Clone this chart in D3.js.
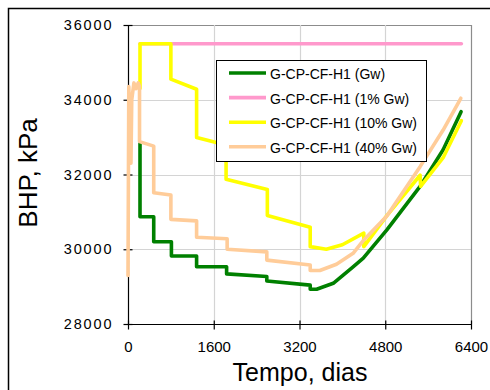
<!DOCTYPE html>
<html>
<head>
<meta charset="utf-8">
<script src="https://cdn.jsdelivr.net/npm/d3@7"></script>
<style>
  body { margin: 0; background: #fff; }
  svg { display: block; font-family: "Liberation Sans", Arial, sans-serif; }
</style>
</head>
<body>
<div id="chart"></div>
<script>
// tick values
let xTicks = [0, 1600, 3200, 4800, 6400];
let yTicks = [28000, 30000, 32000, 34000, 36000];

// series names, in legend order
let seriesNames = ['G-CP-CF-H1 (Gw)', 'G-CP-CF-H1 (1% Gw)', 'G-CP-CF-H1 (10% Gw)', 'G-CP-CF-H1 (40% Gw)'];
let seriesColors = ['#008000', '#ff99cc', '#ffff00', '#ffcc99'];

// [tempo (dias), BHP (kPa)]
let gw = [
    [224, 32830], [224, 30870], [480, 30870], [480, 30200], [810, 30200], [810, 29820],
    [1280, 29820], [1280, 29530], [1840, 29530], [1840, 29340], [2590, 29270], [2590, 29150],
    [3400, 29040], [3400, 28930], [3520, 28930], [3830, 29090], [4200, 29530], [4390, 29760],
    [4830, 30520], [5450, 31680], [5880, 32660], [6215, 33680]
];
let gw1 = [
    [224, 35500], [6220, 35500]
];
let gw10 = [
    [224, 34300], [224, 35500], [800, 35500], [800, 34550], [1280, 34280], [1280, 32990],
    [1830, 32790], [1830, 31870], [2600, 31600], [2600, 30900], [3400, 30590], [3400, 30070],
    [3700, 30000], [4000, 30120], [4400, 30430], [4400, 30070], [4830, 30900], [5450, 31980],
    [5460, 31680], [5880, 32450], [6220, 33440]
];
let gw40 = [
    [0, 29300], [15, 34350], [40, 33200], [55, 32300], [70, 34000], [110, 34450], [150, 34300],
    [190, 34450], [215, 34350], [215, 32880], [480, 32760], [480, 31510], [800, 31450],
    [800, 30800], [1280, 30760], [1280, 30320], [1850, 30280], [1850, 30000], [2590, 29930],
    [2590, 29710], [3400, 29580], [3400, 29430], [3580, 29430], [3890, 29600], [4200, 29890],
    [4400, 30250], [4830, 30890], [5450, 32210], [5880, 33190], [6210, 34040]
];
let allSeries = [gw, gw1, gw10, gw40];

// svg size and plot area
let svgWidth = 490;
let svgHeight = 390;
let margin = { top: 25, right: 19, bottom: 66, left: 128 };
let width = svgWidth - margin.left - margin.right;
let height = svgHeight - margin.top - margin.bottom;

let svg = d3.select('#chart')
    .append('svg')
    .attr('width', svgWidth)
    .attr('height', svgHeight);

// outer chart frame
svg.append('rect')
    .attr('x', 8.5)
    .attr('y', 8.5)
    .attr('width', 520)
    .attr('height', 520)
    .attr('fill', 'none')
    .attr('stroke', '#000')
    .attr('stroke-width', 1.5);

let chartGroup = svg.append('g')
    .attr('transform', `translate(${margin.left}, ${margin.top})`);

// scales
let xScale = d3.scaleLinear().domain([0, 6400]).range([0, width]);
let yScale = d3.scaleLinear().domain([28000, 36000]).range([height, 0]);

// gridlines
chartGroup.append('g')
    .selectAll('line')
    .data(yTicks.slice(1))
    .enter()
    .append('line')
    .attr('x1', 0)
    .attr('x2', width)
    .attr('y1', d => Math.round(yScale(d)) + 0.5)
    .attr('y2', d => Math.round(yScale(d)) + 0.5)
    .attr('stroke', d => d === 36000 ? '#8c8c8c' : '#d4d4d4')
    .attr('stroke-width', 1.2);

chartGroup.append('g')
    .selectAll('line')
    .data(xTicks.slice(1))
    .enter()
    .append('line')
    .attr('y1', 0)
    .attr('y2', height)
    .attr('x1', d => Math.round(xScale(d)) + 0.5)
    .attr('x2', d => Math.round(xScale(d)) + 0.5)
    .attr('stroke', d => d === 6400 ? '#8c8c8c' : '#d4d4d4')
    .attr('stroke-width', 1.2);

// axes
let leftAxis = d3.axisLeft(yScale)
    .tickValues(yTicks)
    .tickFormat(d3.format('d'))
    .tickSizeInner(5)
    .tickSizeOuter(0)
    .tickPadding(10);

let bottomAxis = d3.axisBottom(xScale)
    .tickValues(xTicks)
    .tickFormat(d3.format('d'))
    .tickSizeInner(5)
    .tickSizeOuter(0)
    .tickPadding(12);

let yAxis = chartGroup.append('g')
    .attr('transform', 'translate(0.5, 0)')
    .call(leftAxis);

let xAxis = chartGroup.append('g')
    .attr('transform', `translate(0, ${height + 0.5})`)
    .call(bottomAxis);

// ticks cross the axis lines
yAxis.selectAll('.tick line').attr('x2', -5).attr('x1', 4);
xAxis.selectAll('.tick line').attr('y2', 5).attr('y1', -4);

yAxis.selectAll('path, line').attr('stroke', '#000').attr('stroke-width', 1.2);
xAxis.selectAll('path, line').attr('stroke', '#000').attr('stroke-width', 1.2);

yAxis.selectAll('text')
    .attr('font-size', '14.5px')
    .attr('letter-spacing', '1.9px')
    .attr('fill', '#000');

xAxis.selectAll('text')
    .attr('font-size', '15px')
    .attr('fill', '#000');

yAxis.select('.domain').attr('d', `M0,0V${height}`);
xAxis.select('.domain').attr('d', `M0,0H${width}`);

// lines
let line = d3.line()
    .x(d => xScale(d[0]))
    .y(d => yScale(d[1]));

chartGroup.append('g')
    .selectAll('path')
    .data(allSeries)
    .enter()
    .append('path')
    .attr('d', line)
    .attr('fill', 'none')
    .attr('stroke', (d, i) => seriesColors[i])
    .attr('stroke-width', 3.6)
    .attr('stroke-linejoin', 'round')
    .attr('stroke-linecap', 'round');

// axis titles
svg.append('text')
    .attr('transform', 'translate(37, 173) rotate(-90)')
    .attr('text-anchor', 'middle')
    .attr('font-size', '26px')
    .text('BHP, kPa');

svg.append('text')
    .attr('x', 300)
    .attr('y', 381)
    .attr('text-anchor', 'middle')
    .attr('font-size', '25px')
    .text('Tempo, dias');

// legend
let legend = svg.append('g');

legend.append('rect')
    .attr('x', 216.5)
    .attr('y', 60.5)
    .attr('width', 210)
    .attr('height', 101)
    .attr('fill', '#fff')
    .attr('stroke', '#000')
    .attr('stroke-width', 1);

let legendItems = legend.selectAll('.item')
    .data(seriesNames)
    .enter()
    .append('g')
    .classed('item', true)
    .attr('transform', (d, i) => `translate(0, ${73 + i * 24.6})`);

legendItems.append('line')
    .attr('x1', 229)
    .attr('x2', 266)
    .attr('y1', 0)
    .attr('y2', 0)
    .attr('stroke', (d, i) => seriesColors[i])
    .attr('stroke-width', 3.6);

legendItems.append('text')
    .attr('x', 270)
    .attr('y', 6)
    .attr('font-size', '14px')
    .text(d => d);
</script>
</body>
</html>
